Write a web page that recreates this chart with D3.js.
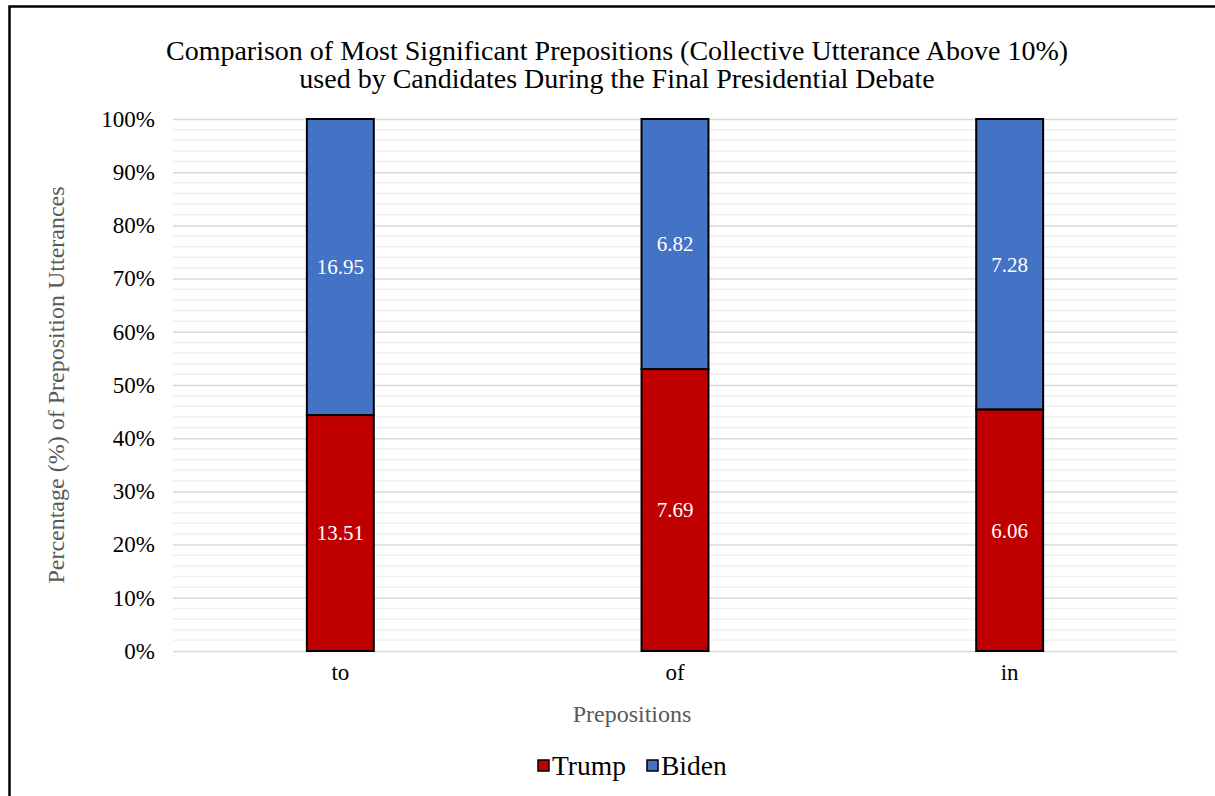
<!DOCTYPE html>
<html>
<head>
<meta charset="utf-8">
<script src="https://cdn.jsdelivr.net/npm/d3@7"></script>
<style>
  body { margin: 0; background: #fff; }
  svg, svg text { font-family: "Liberation Serif", "Times New Roman", serif; }
</style>
</head>
<body>
<div id="chart"></div>
<script>
const categories = ["to", "of", "in"];
const trump = [13.51, 7.69, 6.06];
const biden = [16.95, 6.82, 7.28];
const seriesNames = ["Trump", "Biden"];
const seriesColors = ["#c00000", "#4472c4"];
const yTicks = [0, 10, 20, 30, 40, 50, 60, 70, 80, 90, 100];

const W = 1215, H = 796;
const margin = {top: 119, right: 38, bottom: 145, left: 173};
const width = W - margin.left - margin.right;
const height = H - margin.top - margin.bottom;
const serif = "Liberation Serif";

const svg = d3.select("#chart").append("svg")
  .attr("width", W)
  .attr("height", H);

// outer frame (cut off right and bottom)
svg.append("path")
  .attr("d", "M9.5," + H + " V6.5 H" + W)
  .attr("fill", "none")
  .attr("stroke", "#000")
  .attr("stroke-width", 2.5);

const g = svg.append("g")
  .attr("transform", "translate(" + margin.left + "," + margin.top + ")");

const x = d3.scaleBand()
  .domain(categories)
  .range([0, width])
  .paddingInner(0.8)
  .paddingOuter(0.4);

const y = d3.scaleLinear()
  .domain([0, 100])
  .range([height, 0]);

// minor gridlines every 2%
g.append("g")
  .selectAll("line")
  .data(d3.range(0, 101, 2).filter(d => d % 10 !== 0))
  .join("line")
  .attr("x1", 0).attr("x2", width)
  .attr("y1", d => y(d)).attr("y2", d => y(d))
  .attr("stroke", "#f0f0f0")
  .attr("stroke-width", 1.5);

// major gridlines
g.append("g")
  .call(d3.axisLeft(y).tickValues(yTicks).tickSize(-width).tickFormat(""))
  .call(a => a.select(".domain").remove())
  .selectAll("line")
  .attr("stroke", "#d9d9d9")
  .attr("stroke-width", 1.5);

// y tick labels
g.append("g")
  .call(d3.axisLeft(y).tickValues(yTicks).tickSize(0).tickPadding(18).tickFormat(d => d + "%"))
  .call(a => a.select(".domain").remove())
  .selectAll("text")
  .style("font-family", serif)
  .style("font-size", "23px")
  .attr("fill", "#000");

// stacked 100% data
const rows = categories.map((c, i) => ({cat: c, Trump: trump[i], Biden: biden[i]}));
const stack = d3.stack().keys(seriesNames).offset(d3.stackOffsetExpand);
const layers = stack(rows);

const color = d3.scaleOrdinal().domain(seriesNames).range(seriesColors);

const layer = g.selectAll("g.layer")
  .data(layers)
  .join("g")
  .attr("class", "layer")
  .attr("fill", d => color(d.key));

layer.selectAll("rect")
  .data(d => d.map(p => Object.assign(p, {key: d.key})))
  .join("rect")
  .attr("x", d => x(d.data.cat))
  .attr("width", x.bandwidth())
  .attr("y", d => y(d[1] * 100))
  .attr("height", d => y(d[0] * 100) - y(d[1] * 100))
  .attr("stroke", "#000")
  .attr("stroke-width", 2);

layer.selectAll("text")
  .data(d => d)
  .join("text")
  .attr("x", d => x(d.data.cat) + x.bandwidth() / 2)
  .attr("y", d => (y(d[0] * 100) + y(d[1] * 100)) / 2)
  .attr("dy", "0.35em")
  .attr("text-anchor", "middle")
  .attr("fill", "#fff")
  .style("font-family", serif)
  .style("font-size", "21px")
  .text(d => d.data[d.key].toFixed(2));

// x axis labels
g.append("g")
  .attr("transform", "translate(0," + height + ")")
  .call(d3.axisBottom(x).tickSize(0).tickPadding(13))
  .call(a => a.select(".domain").remove())
  .selectAll("text")
  .style("font-family", serif)
  .style("font-size", "23px")
  .attr("fill", "#000");

// titles
const title = svg.append("text")
  .attr("text-anchor", "middle")
  .style("font-family", serif)
  .style("font-size", "28px")
  .attr("fill", "#000");
title.append("tspan").attr("x", 617).attr("y", 60)
  .text("Comparison of Most Significant Prepositions (Collective Utterance Above 10%)");
title.append("tspan").attr("x", 617).attr("y", 88)
  .text("used by Candidates During the Final Presidential Debate");

svg.append("text")
  .attr("text-anchor", "middle")
  .attr("x", 632)
  .attr("y", 722)
  .attr("fill", "#595959")
  .style("font-family", serif)
  .style("font-size", "24px")
  .text("Prepositions");

svg.append("text")
  .attr("text-anchor", "middle")
  .attr("transform", "translate(64," + (margin.top + height / 2) + ") rotate(-90)")
  .attr("fill", "#595959")
  .style("font-family", serif)
  .style("font-size", "24px")
  .text("Percentage (%) of Preposition Utterances");

// legend
const legendX = [538, 647];
const legend = svg.append("g").selectAll("g")
  .data(seriesNames)
  .join("g")
  .attr("transform", (d, i) => "translate(" + legendX[i] + ",765)");
legend.append("rect")
  .attr("x", 0).attr("y", -5)
  .attr("width", 11).attr("height", 11)
  .attr("fill", d => color(d))
  .attr("stroke", "#000")
  .attr("stroke-width", 1.5);
legend.append("text")
  .attr("x", 14)
  .attr("y", 0)
  .attr("dy", "0.35em")
  .style("font-family", serif)
  .style("font-size", "27.5px")
  .attr("fill", "#000")
  .text(d => d);
</script>
</body>
</html>
